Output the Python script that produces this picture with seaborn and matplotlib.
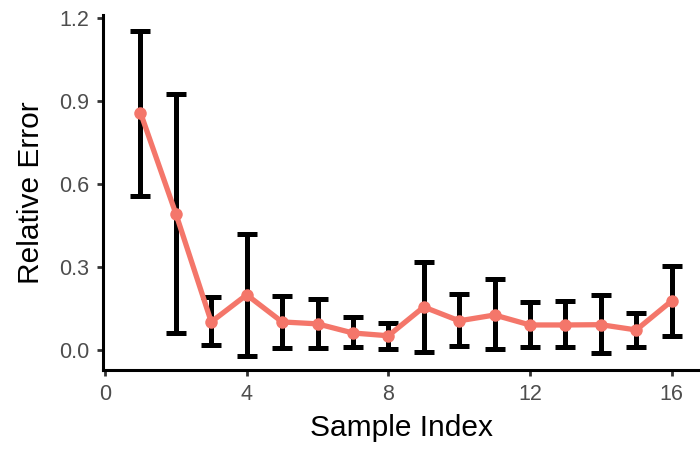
import matplotlib
matplotlib.use('Agg')
import matplotlib.pyplot as plt
import seaborn as sns
import pandas as pd
import numpy as np

# Values
sample_index = [1, 2, 3, 4, 5, 6, 7, 8, 9, 10, 11, 12, 13, 14, 15, 16]
rel_error = [0.857, 0.492, 0.101, 0.199, 0.101, 0.094, 0.061, 0.051,
             0.155, 0.105, 0.126, 0.090, 0.090, 0.091, 0.072, 0.177]
err_upper = [1.153, 0.925, 0.190, 0.419, 0.195, 0.184, 0.119, 0.098,
             0.318, 0.202, 0.256, 0.173, 0.177, 0.199, 0.134, 0.304]
err_lower = [0.557, 0.061, 0.018, -0.022, 0.007, 0.007, 0.010, 0.002,
             -0.007, 0.014, 0.004, 0.011, 0.011, -0.011, 0.011, 0.051]

x_ticks = [0, 4, 8, 12, 16]
y_ticks = [0.0, 0.3, 0.6, 0.9, 1.2]

df = pd.DataFrame({'Sample Index': sample_index, 'Relative Error': rel_error,
                   'upper': err_upper, 'lower': err_lower})

sns.set_theme(style='ticks')
plt.rcParams['font.family'] = ['Liberation Sans', 'DejaVu Sans']

fig = plt.figure(figsize=(7, 4.51), dpi=100)
ax = fig.add_axes([0.147, 0.18, 0.853, 0.787])

yerr = np.vstack([df['Relative Error'] - df['lower'], df['upper'] - df['Relative Error']])
ax.errorbar(df['Sample Index'], df['Relative Error'], yerr=yerr, fmt='none',
            ecolor='black', elinewidth=3.6, capsize=7.5, capthick=3.6, zorder=2)

sns.lineplot(data=df, x='Sample Index', y='Relative Error', color='#F4766A',
             linewidth=3.8, marker='o', markersize=9, markeredgewidth=0, ax=ax, zorder=3)

ax.set_xlim(-0.06, 16.8)
ax.set_ylim(-0.072, 1.21)
ax.set_xticks(x_ticks)
ax.set_yticks(y_ticks)
ax.set_yticklabels([f'{v:.1f}' for v in y_ticks])

for side in ['top', 'right']:
    ax.spines[side].set_visible(False)
for side in ['left', 'bottom']:
    ax.spines[side].set_linewidth(2.2)
    ax.spines[side].set_color('black')

ax.tick_params(axis='both', length=4, width=2, color='#333333',
               labelsize=15.5, labelcolor='#4D4D4D', pad=6)
ax.set_xlabel('Sample Index', fontsize=21.5, color='black', labelpad=7)
ax.set_ylabel('Relative Error', fontsize=21.5, color='black', labelpad=10)

fig.savefig('out.png', dpi=100)
